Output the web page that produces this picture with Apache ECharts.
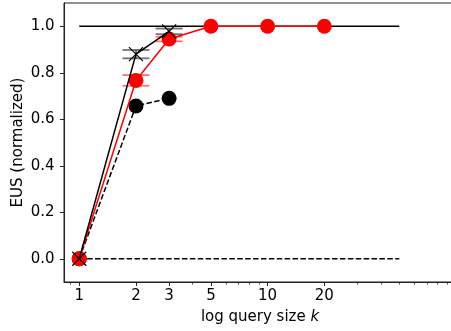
<!DOCTYPE html>
<html>
<head>
<meta charset="utf-8">
<script src="https://cdn.jsdelivr.net/npm/echarts@6/dist/echarts.min.js"></script>
<style>
  html, body { margin: 0; padding: 0; background: #fff; }
  #chart { width: 451px; height: 331px; }
</style>
</head>
<body>
<div id="chart"></div>
<script>
// Query sizes (log scale) and normalized EUS values
const kAll = [1, 2, 3, 5, 10, 20];
const kShort = [1, 2, 3];
const redMean = [0, 0.767, 0.945, 1, 1, 1];
const redErr = [0, 0.023, 0.01, 0, 0, 0];
const crossMean = [0, 0.88, 0.978];
const crossErr = [0, 0.018, 0.012];
const dotMean = [0, 0.657, 0.69];
// Reference levels drawn across the k range
const refX = [1, 50];
const upperRef = 1.0;
const lowerRef = 0.0;
// Axis ticks
const xMajor = [1, 2, 3, 5, 10, 20];
const xMinor = [0.9, 4, 6, 7, 8, 9, 30, 40, 50, 60, 70, 80, 90];
const yTicks = [0, 0.2, 0.4, 0.6, 0.8, 1.0];

const FONT = 'DejaVu Sans';
const FS = 15;
const DASH = [5.5, 2.4];

function pairs(xs, ys) { return xs.map((x, i) => [x, ys[i]]); }

function errorBars(xs, means, errs, color) {
  return {
    type: 'custom',
    data: xs.map((x, i) => [x, means[i] - errs[i], means[i] + errs[i]]),
    renderItem: function (params, api) {
      const lo = api.coord([api.value(0), api.value(1)]);
      const hi = api.coord([api.value(0), api.value(2)]);
      const half = 13.5;
      const style = { stroke: color, lineWidth: 1.8, opacity: 0.55 };
      if (Math.abs(hi[1] - lo[1]) < 0.5) return { type: 'group', children: [] };
      return {
        type: 'group',
        children: [
          { type: 'line', shape: { x1: lo[0], y1: lo[1], x2: hi[0], y2: hi[1] }, style },
          { type: 'line', shape: { x1: lo[0] - half, y1: lo[1], x2: lo[0] + half, y2: lo[1] }, style },
          { type: 'line', shape: { x1: hi[0] - half, y1: hi[1], x2: hi[0] + half, y2: hi[1] }, style }
        ]
      };
    },
    z: 3,
    silent: true
  };
}

const chart = echarts.init(document.getElementById('chart'), null, { renderer: 'canvas' });

chart.setOption({
  animation: false,
  backgroundColor: '#fff',
  grid: {
    left: 64, top: 3, width: 392, height: 279,
    containLabel: false, outerBoundsMode: 'none',
    show: true, borderColor: '#222', borderWidth: 1, backgroundColor: 'transparent'
  },
  xAxis: [
    {
      type: 'log', logBase: 10, min: 0.83, max: 100,
      name: 'log query size {k|k}',
      nameLocation: 'middle', nameGap: 28, nameMoveOverlap: false,
      nameTextStyle: {
        fontFamily: FONT, fontSize: FS, color: '#000',
        rich: { k: { fontFamily: FONT, fontSize: FS, fontStyle: 'italic', color: '#000' } }
      },
      axisLine: { show: true, onZero: false, lineStyle: { color: '#222', width: 1 } },
      axisTick: { show: true, length: 4, customValues: xMajor, lineStyle: { color: '#222' } },
      axisLabel: {
        customValues: xMajor, margin: 7,
        fontFamily: FONT, fontSize: FS, color: '#000',
        formatter: v => String(v)
      },
      splitLine: { show: false },
      minorTick: { show: false }
    },
    {
      type: 'log', logBase: 10, min: 0.83, max: 100, position: 'bottom',
      axisLine: { show: false, onZero: false },
      axisTick: { show: true, length: 2.5, customValues: xMinor, lineStyle: { color: '#222', width: 0.8 } },
      axisLabel: { show: false },
      splitLine: { show: false }
    }
  ],
  yAxis: {
    type: 'value', min: -0.1, max: 1.1,
    name: 'EUS (normalized)',
    nameLocation: 'middle', nameGap: 38, nameMoveOverlap: false,
    nameTextStyle: { fontFamily: FONT, fontSize: FS, color: '#000' },
    axisLine: { show: true, onZero: false, lineStyle: { color: '#222', width: 1 } },
    axisTick: { show: true, length: 4, customValues: yTicks, lineStyle: { color: '#222' } },
    axisLabel: {
      customValues: yTicks, margin: 9.5,
      fontFamily: FONT, fontSize: FS, color: '#000',
      formatter: v => v.toFixed(1)
    },
    splitLine: { show: false }
  },
  series: [
    {
      type: 'line', data: pairs(refX, [upperRef, upperRef]), showSymbol: false,
      lineStyle: { color: '#000', width: 1.5 }, z: 1, silent: true
    },
    {
      type: 'line', data: pairs(refX, [lowerRef, lowerRef]), showSymbol: false,
      lineStyle: { color: '#000', width: 1.5, type: DASH }, z: 1, silent: true
    },
    {
      type: 'line', data: pairs(kShort, dotMean),
      symbol: 'circle', symbolSize: 15,
      itemStyle: { color: '#000' },
      lineStyle: { color: '#000', width: 1.5, type: DASH }, z: 2
    },
    errorBars(kAll, redMean, redErr, '#ff0000'),
    {
      type: 'line', data: pairs(kAll, redMean),
      symbol: 'circle', symbolSize: 15,
      itemStyle: { color: '#ff0000' },
      lineStyle: { color: '#ff0000', width: 1.5 }, z: 4
    },
    errorBars(kShort, crossMean, crossErr, '#000'),
    {
      type: 'line', data: pairs(kShort, crossMean),
      symbol: 'path://M0,0L10,10M10,0L0,10', symbolSize: 14,
      itemStyle: { color: 'transparent', borderColor: '#000', borderWidth: 1.2 },
      lineStyle: { color: '#000', width: 1.5 }, z: 5
    }
  ]
});
</script>
</body>
</html>
